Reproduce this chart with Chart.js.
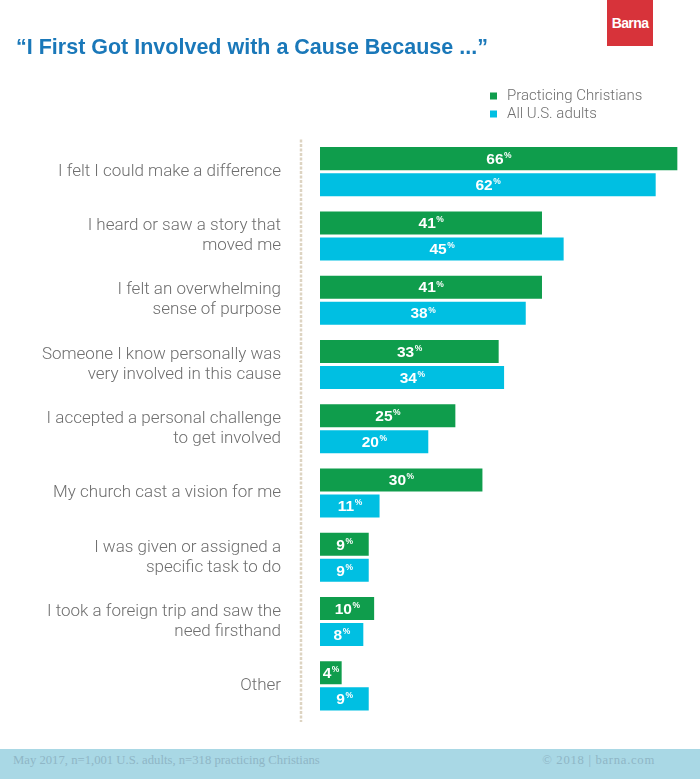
<!DOCTYPE html>
<html>
<head>
<meta charset="utf-8">
<script src="https://cdn.jsdelivr.net/npm/chart.js@4/dist/chart.umd.min.js"></script>
<style>
  html, body { margin: 0; padding: 0; background: #fff; }
  #wrap { position: relative; width: 700px; height: 779px; overflow: hidden; }
  #chart { position: absolute; left: 0; top: 0; }
  .title { position: absolute; left: 16px; top: 35px; font: bold 21.5px "Liberation Sans", Arial, sans-serif; color: #1a78b9; white-space: nowrap; }
  .logo { position: absolute; left: 607px; top: 0; width: 46px; height: 46px; background: #d7333a; color: #fff; font: bold 14px "Liberation Sans", Arial, sans-serif; text-align: center; line-height: 46px; letter-spacing: -0.6px; }
  .footer { position: absolute; left: 0; top: 749px; width: 700px; height: 30px; background: #a9d8e5; color: #8fb6c6; font: 12.7px "Liberation Serif", serif; }
  .footer .l { position: absolute; left: 13px; top: 4px; }
  .footer .r { position: absolute; right: 45px; top: 4px; letter-spacing: 0.7px; }
</style>
</head>
<body>
<div id="wrap">
  <canvas id="chart" width="700" height="779"></canvas>
  <div class="title">“I First Got Involved with a Cause Because ...”</div>
  <div class="logo">Barna</div>
  <div class="footer"><span class="l">May 2017, n=1,001 U.S. adults, n=318 practicing Christians</span><span class="r">© 2018 | barna.com</span></div>
</div>
<script>
(function() {
  'use strict';

  var categories = [
    'I felt I could make a difference',
    ['I heard or saw a story that', 'moved me'],
    ['I felt an overwhelming', 'sense of purpose'],
    ['Someone I know personally was', 'very involved in this cause'],
    ['I accepted a personal challenge', 'to get involved'],
    'My church cast a vision for me',
    ['I was given or assigned a', 'specific task to do'],
    ['I took a foreign trip and saw the', 'need firsthand'],
    'Other'
  ];
  var practicingChristians = [66, 41, 41, 33, 25, 30, 9, 10, 4];
  var allAdults = [62, 45, 38, 34, 20, 11, 9, 8, 9];
  var seriesNames = ['Practicing Christians', 'All U.S. adults'];
  var seriesColors = ['#0f9d4c', '#00bfe2'];

  // tan divider line left of the bars
  var dividerPlugin = {
    id: 'divider',
    beforeDatasetsDraw: function(chart) {
      var ctx = chart.ctx;
      var x = chart.chartArea.left - 19;
      ctx.save();
      ctx.strokeStyle = '#ddd4c2';
      ctx.lineWidth = 2.5;
      ctx.setLineDash([3, 1.5]);
      ctx.beginPath();
      ctx.moveTo(x, chart.chartArea.top);
      ctx.lineTo(x, chart.chartArea.bottom + 4);
      ctx.stroke();
      ctx.restore();
    }
  };

  // white value labels with a small raised %
  var valueLabels = {
    id: 'valueLabels',
    afterDatasetsDraw: function(chart) {
      var ctx = chart.ctx;
      var big = 'bold 15.5px "Liberation Sans", Arial, sans-serif';
      var small = 'bold 8.5px "Liberation Sans", Arial, sans-serif';
      ctx.save();
      ctx.fillStyle = '#fff';
      ctx.textBaseline = 'middle';
      ctx.textAlign = 'left';
      chart.data.datasets.forEach(function(ds, i) {
        chart.getDatasetMeta(i).data.forEach(function(bar, j) {
          var num = String(ds.data[j]);
          ctx.font = big;
          var w1 = ctx.measureText(num).width;
          ctx.font = small;
          var w2 = ctx.measureText('%').width;
          var sx = (bar.base + bar.x) / 2 - (w1 + w2) / 2;
          ctx.font = big;
          ctx.fillText(num, sx, bar.y + 1);
          ctx.font = small;
          ctx.fillText('%', sx + w1 + 0.5, bar.y - 3);
        });
      });
      ctx.restore();
    }
  };

  // legend stacked in the upper right
  var sideLegend = {
    id: 'sideLegend',
    afterDraw: function(chart) {
      var ctx = chart.ctx;
      ctx.save();
      ctx.textBaseline = 'middle';
      ctx.font = '300 15px Roboto, sans-serif';
      chart.data.datasets.forEach(function(ds, i) {
        var y = 96 + i * 18;
        ctx.fillStyle = ds.backgroundColor;
        ctx.fillRect(490, y - 3.5, 7, 7);
        ctx.fillStyle = '#6e6e6e';
        ctx.fillText(ds.label, 507, y);
      });
      ctx.restore();
    }
  };

  new Chart(document.getElementById('chart').getContext('2d'), {
    type: 'bar',
    data: {
      labels: categories,
      datasets: [
        { label: seriesNames[0], data: practicingChristians, backgroundColor: seriesColors[0] },
        { label: seriesNames[1], data: allAdults, backgroundColor: seriesColors[1] }
      ]
    },
    options: {
      indexAxis: 'y',
      responsive: false,
      animation: false,
      layout: { padding: { top: 139.5, bottom: 61, left: 0, right: 1 } },
      datasets: { bar: { barPercentage: 0.885, categoryPercentage: 0.81 } },
      scales: {
        x: { display: false, min: 0, max: 70 },
        y: {
          grid: { display: false },
          border: { display: false },
          afterFit: function(scale) { scale.width = 320; },
          ticks: {
            padding: 31,
            color: '#6e6e6e',
            font: { family: 'Roboto', size: 17, weight: 300, lineHeight: 1.18 }
          }
        }
      },
      plugins: {
        legend: { display: false },
        tooltip: { enabled: false }
      }
    },
    plugins: [dividerPlugin, valueLabels, sideLegend]
  });
})();
</script>
</body>
</html>
